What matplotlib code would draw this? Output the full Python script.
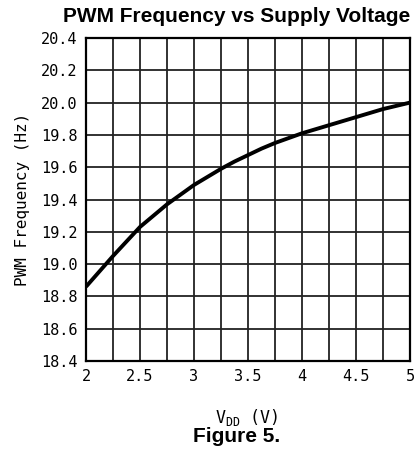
import matplotlib
matplotlib.use("Agg")
from matplotlib import pyplot as plt
import numpy as np

# values
vdd = [2.0, 2.125, 2.25, 2.375, 2.5, 2.625, 2.75, 2.875, 3.0, 3.125, 3.25, 3.375,
       3.5, 3.625, 3.75, 3.875, 4.0, 4.25, 4.5, 4.75, 5.0]
freq = [18.86, 18.955, 19.05, 19.14, 19.23, 19.30, 19.37, 19.43, 19.49, 19.54, 19.59, 19.635,
        19.675, 19.715, 19.75, 19.78, 19.81, 19.86, 19.91, 19.96, 20.0]

xticks = [2, 2.5, 3, 3.5, 4, 4.5, 5]
xticklabels = ["2", "2.5", "3", "3.5", "4", "4.5", "5"]
yticks = [18.4, 18.6, 18.8, 19.0, 19.2, 19.4, 19.6, 19.8, 20.0, 20.2, 20.4]

mono = "DejaVu Sans Mono"

fig = plt.figure(figsize=(4.2, 4.59), dpi=100)
ax = fig.add_axes([86/420, 1 - 361/459, (410-86)/420, (361-38)/459])

ax.plot(vdd, freq, color="black", linewidth=2.8, solid_capstyle="butt", solid_joinstyle="round")

ax.set_xlim(2, 5)
ax.set_ylim(18.4, 20.4)
ax.set_xticks(xticks)
ax.set_xticks(np.arange(2.25, 5, 0.5), minor=True)
ax.set_xticklabels(xticklabels, fontfamily=mono, fontsize=11)
ax.set_yticks(yticks)
ax.set_yticklabels(["%.1f" % v for v in yticks], fontfamily=mono, fontsize=11)
ax.grid(True, which="both", color="#222222", linewidth=1.3)
ax.tick_params(which="both", length=0, pad=6)
for s in ax.spines.values():
    s.set_linewidth(1.6)

ax.set_ylabel("PWM Frequency (Hz)", fontfamily=mono, fontsize=11.5, labelpad=8)
fig.text(247/420, 1 - 417/459, r"V$_{\mathregular{DD}}$ (V)", fontfamily=mono,
         fontsize=12, ha="center", va="center")
fig.text(237/420, 1 - 16/459, "PWM Frequency vs Supply Voltage", fontfamily="Liberation Sans",
         fontweight="bold", fontsize=15, ha="center", va="center")
fig.text(237/420, 1 - 437/459, "Figure 5.", fontfamily="Liberation Sans",
         fontweight="bold", fontsize=15, ha="center", va="center")

fig.savefig("out.png", dpi=100)
